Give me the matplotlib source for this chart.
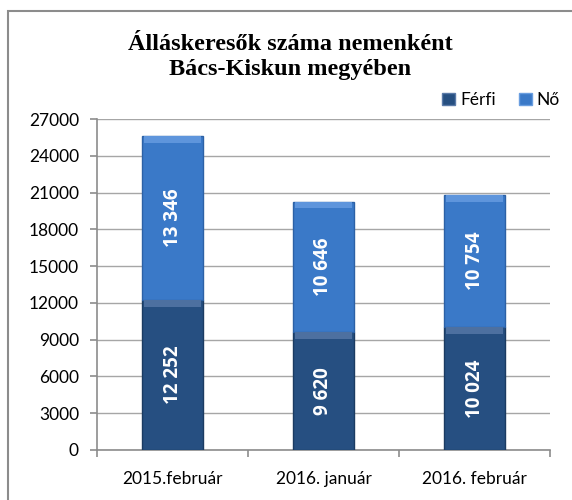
import matplotlib
matplotlib.use("Agg")
import matplotlib.pyplot as plt
from matplotlib.patches import Rectangle, Patch
import numpy as np

categories = ["2015.február", "2016. január", "2016. február"]
ferfi = [12252, 9620, 10024]
no = [13346, 10646, 10754]
labels_ferfi = ["12 252", "9 620", "10 024"]
labels_no = ["13 346", "10 646", "10 754"]
yticks = [0, 3000, 6000, 9000, 12000, 15000, 18000, 21000, 24000, 27000]

c_ferfi = "#264f81"
c_no = "#3a79c8"
c_ferfi_top = "#4d70a0"
c_no_top = "#5e95dc"

fig = plt.figure(figsize=(5.72, 5.0), dpi=100)
fig.patch.set_facecolor("white")

fig.add_artist(Rectangle((8/572, -0.1), 1.2, 1 - 11/500 + 0.1, transform=fig.transFigure,
                         fill=False, edgecolor="#8c8c8c", linewidth=1.5))

ax = fig.add_axes([97/572, 50/500, (550-97)/572, (450-119)/500])
x = np.arange(len(categories))
w = 0.41
ax.bar(x, ferfi, width=w, color=c_ferfi, edgecolor="#1b3b62", linewidth=1.0, zorder=3)
ax.bar(x, no, width=w, bottom=ferfi, color=c_no, edgecolor="#2c61a6", linewidth=1.0, zorder=3)
bev = 550
ax.bar(x, [bev]*3, width=w*0.92, bottom=[f - bev for f in ferfi], color=c_ferfi_top, linewidth=0, zorder=4)
ax.bar(x, [bev]*3, width=w*0.92, bottom=[f + n - bev for f, n in zip(ferfi, no)], color=c_no_top, linewidth=0, zorder=4)

lab_font = dict(rotation=90, ha="center", va="center", color="white", fontweight="bold",
                fontsize=13.5, family="Open Sans", zorder=5)
for i in range(len(categories)):
    ax.text(x[i], ferfi[i] / 2, labels_ferfi[i], **lab_font)
    ax.text(x[i], ferfi[i] + no[i] / 2, labels_no[i], **lab_font)

ax.set_ylim(0, 27000)
ax.set_xlim(-0.5, len(categories) - 0.5)
ax.set_yticks(yticks)
ax.set_yticklabels([str(t) for t in yticks], fontsize=12.5, family="Lato")
ax.yaxis.grid(True, color="#a6a6a6", linewidth=1, zorder=0)
ax.set_axisbelow(True)
ax.set_xticks(x)
ax.set_xticklabels(categories, fontsize=12.5, family="Lato")
ax.tick_params(axis="x", length=0, pad=15)
ax.set_xticks([-0.5, 0.5, 1.5, 2.5], minor=True)
ax.tick_params(axis="x", which="minor", length=5, color="#8c8c8c", width=1.2)
ax.tick_params(axis="y", length=5, color="#8c8c8c", width=1.2, pad=8)
for s in ["top", "right"]:
    ax.spines[s].set_visible(False)
for s in ["left", "bottom"]:
    ax.spines[s].set_color("#8c8c8c")
    ax.spines[s].set_linewidth(1.2)

fig.text(290/572, 1 - 57/500, "Álláskeresők száma nemenként\nBács-Kiskun megyében",
         ha="center", va="center", fontsize=17.5, fontweight="bold", family="Liberation Serif",
         linespacing=1.25)

handles = [Patch(facecolor=c_ferfi, edgecolor="#5a7aa8"), Patch(facecolor=c_no, edgecolor="#6a9ee0")]
leg = fig.legend(handles, ["Férfi", "Nő"], loc="center right", bbox_to_anchor=(560/572, 1 - 100/500),
                 ncol=2, frameon=False, prop={"family": "Lato", "size": 12.5},
                 handlelength=0.75, handleheight=0.75, handletextpad=0.3, columnspacing=1.3,
                 borderaxespad=0, borderpad=0)

fig.savefig("out.png", dpi=100, facecolor="white")
